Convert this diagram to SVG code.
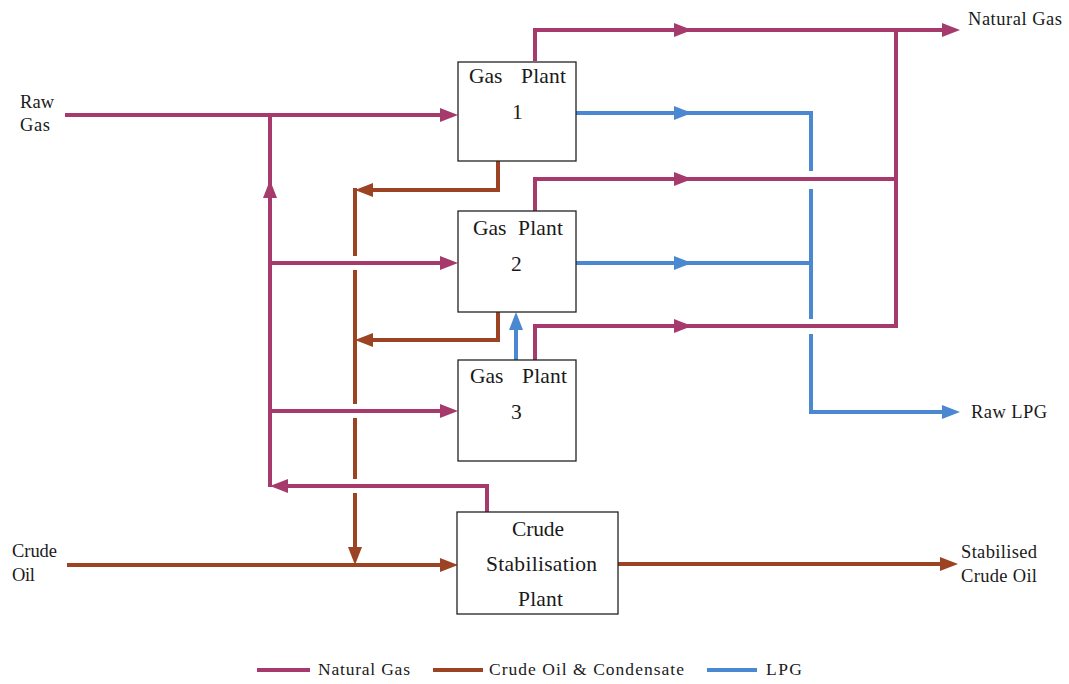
<svg xmlns="http://www.w3.org/2000/svg" width="1069" height="684" viewBox="0 0 1069 684">
<defs>
<style>
.ng{fill:none;stroke:#a63a6c;stroke-width:4}
.oil{fill:none;stroke:#9b4322;stroke-width:4}
.lpg{fill:none;stroke:#4b88d2;stroke-width:4}
.box{fill:#fff;stroke:#222;stroke-width:1.3}
text{font-family:"Liberation Serif","Times New Roman",serif;fill:#1a1a1a}
.lbl{font-size:18.5px}
.bt{font-size:21.5px}
.lg{font-size:17.5px}
</style>
<marker id="aNg" markerUnits="userSpaceOnUse" markerWidth="20" markerHeight="16" refX="6" refY="7" orient="auto"><path d="M0,0 L18,7 L0,14 z" fill="#a63a6c"/></marker>
<marker id="aOil" markerUnits="userSpaceOnUse" markerWidth="20" markerHeight="16" refX="6" refY="7" orient="auto"><path d="M0,0 L18,7 L0,14 z" fill="#9b4322"/></marker>
<marker id="aLpg" markerUnits="userSpaceOnUse" markerWidth="20" markerHeight="16" refX="6" refY="7" orient="auto"><path d="M0,0 L18,7 L0,14 z" fill="#4b88d2"/></marker>
</defs>
<rect width="1069" height="684" fill="#fff"/>
<g id="connectors">
<!-- natural gas -->
<path class="ng" d="M65,115 H446" marker-end="url(#aNg)"/>
<path class="ng" d="M270,487 V192" marker-end="url(#aNg)"/>
<path class="ng" d="M270,185 V113"/>
<path class="ng" d="M270,263 H446" marker-end="url(#aNg)"/>
<path class="ng" d="M270,411 H446" marker-end="url(#aNg)"/>
<path class="ng" d="M487,512 V486 H282" marker-end="url(#aNg)"/>
<path class="ng" d="M535,61 V30 H680" marker-end="url(#aNg)"/>
<path class="ng" d="M680,30 H948" marker-end="url(#aNg)"/>
<path class="ng" d="M535,211 V179 H680" marker-end="url(#aNg)"/>
<path class="ng" d="M680,179 H896"/>
<path class="ng" d="M535,360 V326 H680" marker-end="url(#aNg)"/>
<path class="ng" d="M680,326 H896"/>
<path class="ng" d="M896,28 V328"/>
<!-- crude oil -->
<path class="oil" d="M498,161 V190 H367" marker-end="url(#aOil)"/>
<path class="oil" d="M498,312 V340 H367" marker-end="url(#aOil)"/>
<path class="oil" d="M355,188 V256"/>
<path class="oil" d="M355,270 V404"/>
<path class="oil" d="M355,418 V479"/>
<path class="oil" d="M355,493 V553" marker-end="url(#aOil)"/>
<path class="oil" d="M67,565 H446" marker-end="url(#aOil)"/>
<path class="oil" d="M618,564 H946" marker-end="url(#aOil)"/>
<!-- LPG -->
<path class="lpg" d="M576,113 H680" marker-end="url(#aLpg)"/>
<path class="lpg" d="M680,113 H811 V171"/>
<path class="lpg" d="M576,263 H680" marker-end="url(#aLpg)"/>
<path class="lpg" d="M680,263 H811"/>
<path class="lpg" d="M811,189 V319"/>
<path class="lpg" d="M811,334 V412 H948" marker-end="url(#aLpg)"/>
<path class="lpg" d="M516,360 V324" marker-end="url(#aLpg)"/>
</g>
<g id="gasplant1">
<rect class="box" x="458" y="62" width="118" height="99"/>
<text class="bt" x="469" y="83">Gas</text><text class="bt" x="521" y="83" textLength="45">Plant</text>
<text class="bt" x="512" y="119">1</text>
</g>
<g id="gasplant2">
<rect class="box" x="458" y="211" width="118" height="101"/>
<text class="bt" x="473" y="235">Gas</text><text class="bt" x="518" y="235" textLength="45">Plant</text>
<text class="bt" x="511" y="271">2</text>
</g>
<g id="gasplant3">
<rect class="box" x="458" y="360" width="118" height="101"/>
<text class="bt" x="470" y="383">Gas</text><text class="bt" x="522" y="383" textLength="45">Plant</text>
<text class="bt" x="511" y="419">3</text>
</g>
<g id="crudestab">
<rect class="box" x="457" y="512" width="161" height="102"/>
<text class="bt" x="512" y="536" textLength="52">Crude</text>
<text class="bt" x="486" y="571" textLength="111">Stabilisation</text>
<text class="bt" x="518" y="606" textLength="45">Plant</text>
</g>
<g id="labels">
<text class="lbl" x="968" y="25" textLength="94">Natural Gas</text>
<text class="lbl" x="20" y="108" textLength="34">Raw</text>
<text class="lbl" x="20" y="131" textLength="30">Gas</text>
<text class="lbl" x="12" y="557" textLength="45">Crude</text>
<text class="lbl" x="12" y="581" textLength="23">Oil</text>
<text class="lbl" x="961" y="558" textLength="76">Stabilised</text>
<text class="lbl" x="961" y="582" textLength="76">Crude Oil</text>
<text class="lbl" x="971" y="418" textLength="76">Raw LPG</text>
</g>
<g id="legend">
<line class="ng" x1="257" y1="670" x2="310" y2="670"/>
<text class="lg" x="318" y="675" textLength="92">Natural Gas</text>
<line class="oil" x1="433" y1="670" x2="483" y2="670"/>
<text class="lg" x="489" y="675" textLength="195">Crude Oil &amp; Condensate</text>
<line class="lpg" x1="707" y1="670" x2="757" y2="670"/>
<text class="lg" x="766" y="675" textLength="36">LPG</text>
</g>
</svg>
